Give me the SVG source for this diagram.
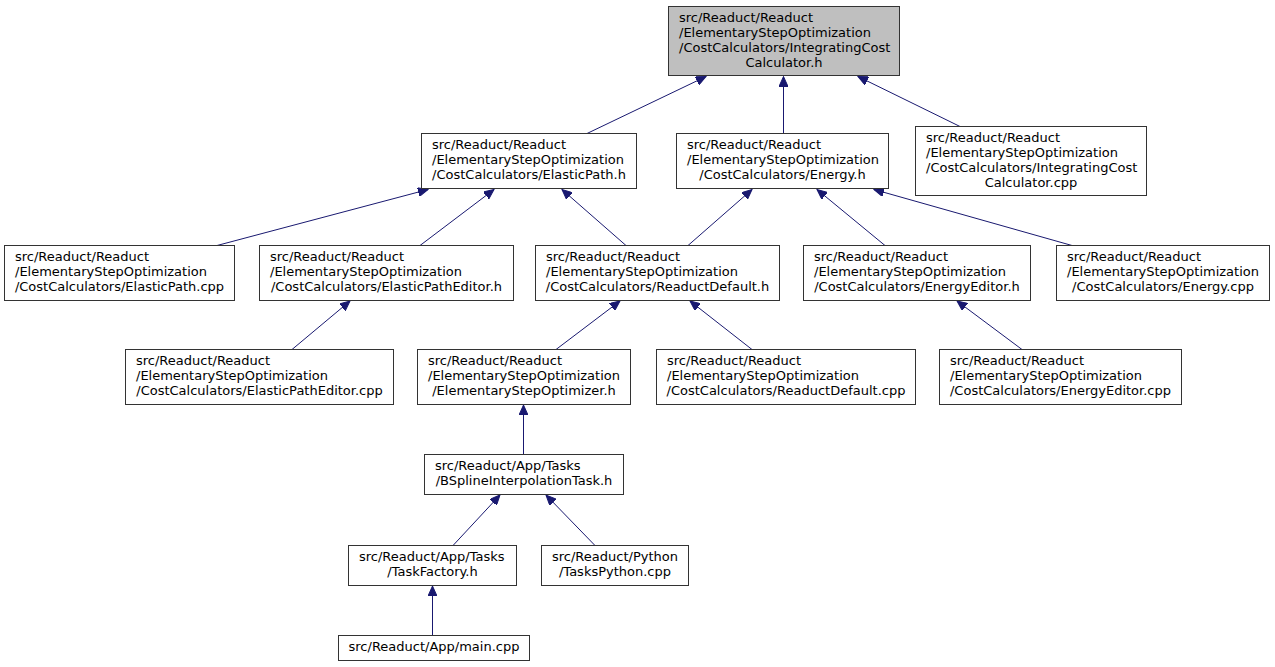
<svg xmlns="http://www.w3.org/2000/svg" width="1275" height="667" viewBox="0 0 1275 667">
<style>
.n rect{fill:#ffffff;stroke:#333333;stroke-width:1}
.n.root rect{fill:#bfbfbf}
text{font-family:"DejaVu Sans","Liberation Sans",sans-serif;font-size:13px;fill:#000000}
.c{text-anchor:middle}
.e path{fill:none;stroke:#191970;stroke-width:1;marker-end:url(#ah)}
</style>
<defs>
<marker id="ah" markerUnits="userSpaceOnUse" markerWidth="11" markerHeight="9" refX="10" refY="4.5" orient="auto">
<path d="M0,0 L10,4.5 L0,9 z" fill="#191970" stroke="#191970" stroke-width="1"/>
</marker>
</defs>
<rect width="1275" height="667" fill="#ffffff"/>
<g class="e" id="edges">
<path d="M587,133.5 L706,76.5"/>
<path d="M783.5,133.5 L783.5,76.5"/>
<path d="M960,126.5 L858,76.5"/>
<path d="M217,245.5 L428,189.5"/>
<path d="M420,245.5 L494,189.5"/>
<path d="M626,245.5 L562,189.5"/>
<path d="M688,245.5 L752,189.5"/>
<path d="M885,245.5 L817,189.5"/>
<path d="M1072,245.5 L874,189.5"/>
<path d="M292,349.5 L350,301"/>
<path d="M556,349.5 L620,301"/>
<path d="M752,349.5 L690,301"/>
<path d="M1022,349.5 L957,301"/>
<path d="M523.5,454.5 L523.5,405"/>
<path d="M453,545.5 L500,495"/>
<path d="M595,545.5 L546,495"/>
<path d="M432.5,635.5 L432.5,586"/>
</g>
<g class="n root" id="node_root">
<rect x="668.5" y="6.5" width="231" height="69"/>
<text x="679" y="22">src/Readuct/Readuct</text>
<text x="679" y="37">/ElementaryStepOptimization</text>
<text x="679" y="52">/CostCalculators/IntegratingCost</text>
<text class="c" x="784" y="67">Calculator.h</text>
</g>
<g class="n" id="node_elasticpath_h">
<rect x="421.5" y="133.5" width="215" height="55"/>
<text x="432" y="149">src/Readuct/Readuct</text>
<text x="432" y="164">/ElementaryStepOptimization</text>
<text class="c" x="529" y="179">/CostCalculators/ElasticPath.h</text>
</g>
<g class="n" id="node_energy_h">
<rect x="676.5" y="133.5" width="212" height="55"/>
<text x="687" y="149">src/Readuct/Readuct</text>
<text x="687" y="164">/ElementaryStepOptimization</text>
<text class="c" x="782.5" y="179">/CostCalculators/Energy.h</text>
</g>
<g class="n" id="node_intcost_cpp">
<rect x="915.5" y="126.5" width="231" height="69"/>
<text x="926" y="142">src/Readuct/Readuct</text>
<text x="926" y="157">/ElementaryStepOptimization</text>
<text x="926" y="172">/CostCalculators/IntegratingCost</text>
<text class="c" x="1031" y="187">Calculator.cpp</text>
</g>
<g class="n" id="node_elasticpath_cpp">
<rect x="4.5" y="245.5" width="230" height="55"/>
<text x="15" y="261">src/Readuct/Readuct</text>
<text x="15" y="276">/ElementaryStepOptimization</text>
<text class="c" x="119.5" y="291">/CostCalculators/ElasticPath.cpp</text>
</g>
<g class="n" id="node_elasticpatheditor_h">
<rect x="259.5" y="245.5" width="254" height="55"/>
<text x="270" y="261">src/Readuct/Readuct</text>
<text x="270" y="276">/ElementaryStepOptimization</text>
<text class="c" x="386.5" y="291">/CostCalculators/ElasticPathEditor.h</text>
</g>
<g class="n" id="node_reactdefault_h">
<rect x="535.5" y="245.5" width="244" height="55"/>
<text x="546" y="261">src/Readuct/Readuct</text>
<text x="546" y="276">/ElementaryStepOptimization</text>
<text class="c" x="657.5" y="291">/CostCalculators/ReaductDefault.h</text>
</g>
<g class="n" id="node_energyeditor_h">
<rect x="803.5" y="245.5" width="227" height="55"/>
<text x="814" y="261">src/Readuct/Readuct</text>
<text x="814" y="276">/ElementaryStepOptimization</text>
<text class="c" x="917" y="291">/CostCalculators/EnergyEditor.h</text>
</g>
<g class="n" id="node_energy_cpp">
<rect x="1056.5" y="245.5" width="213" height="55"/>
<text x="1067" y="261">src/Readuct/Readuct</text>
<text x="1067" y="276">/ElementaryStepOptimization</text>
<text class="c" x="1163" y="291">/CostCalculators/Energy.cpp</text>
</g>
<g class="n" id="node_elasticpatheditor_cpp">
<rect x="125.5" y="349.5" width="268" height="55"/>
<text x="136" y="365">src/Readuct/Readuct</text>
<text x="136" y="380">/ElementaryStepOptimization</text>
<text class="c" x="259.5" y="395">/CostCalculators/ElasticPathEditor.cpp</text>
</g>
<g class="n" id="node_eso_h">
<rect x="417.5" y="349.5" width="213" height="55"/>
<text x="428" y="365">src/Readuct/Readuct</text>
<text x="428" y="380">/ElementaryStepOptimization</text>
<text class="c" x="524" y="395">/ElementaryStepOptimizer.h</text>
</g>
<g class="n" id="node_reactdefault_cpp">
<rect x="656.5" y="349.5" width="259" height="55"/>
<text x="667" y="365">src/Readuct/Readuct</text>
<text x="667" y="380">/ElementaryStepOptimization</text>
<text class="c" x="786" y="395">/CostCalculators/ReaductDefault.cpp</text>
</g>
<g class="n" id="node_energyeditor_cpp">
<rect x="939.5" y="349.5" width="242" height="55"/>
<text x="950" y="365">src/Readuct/Readuct</text>
<text x="950" y="380">/ElementaryStepOptimization</text>
<text class="c" x="1060.5" y="395">/CostCalculators/EnergyEditor.cpp</text>
</g>
<g class="n" id="node_bspline_h">
<rect x="424.5" y="454.5" width="199" height="40"/>
<text x="435" y="470">src/Readuct/App/Tasks</text>
<text class="c" x="524" y="485">/BSplineInterpolationTask.h</text>
</g>
<g class="n" id="node_taskfactory_h">
<rect x="348.5" y="545.5" width="168" height="40"/>
<text x="359" y="561">src/Readuct/App/Tasks</text>
<text class="c" x="432.5" y="576">/TaskFactory.h</text>
</g>
<g class="n" id="node_taskspython_cpp">
<rect x="541.5" y="545.5" width="147" height="40"/>
<text x="552" y="561">src/Readuct/Python</text>
<text class="c" x="615" y="576">/TasksPython.cpp</text>
</g>
<g class="n" id="node_main_cpp">
<rect x="338.5" y="635.5" width="191" height="25"/>
<text class="c" x="434" y="651">src/Readuct/App/main.cpp</text>
</g>
</svg>
